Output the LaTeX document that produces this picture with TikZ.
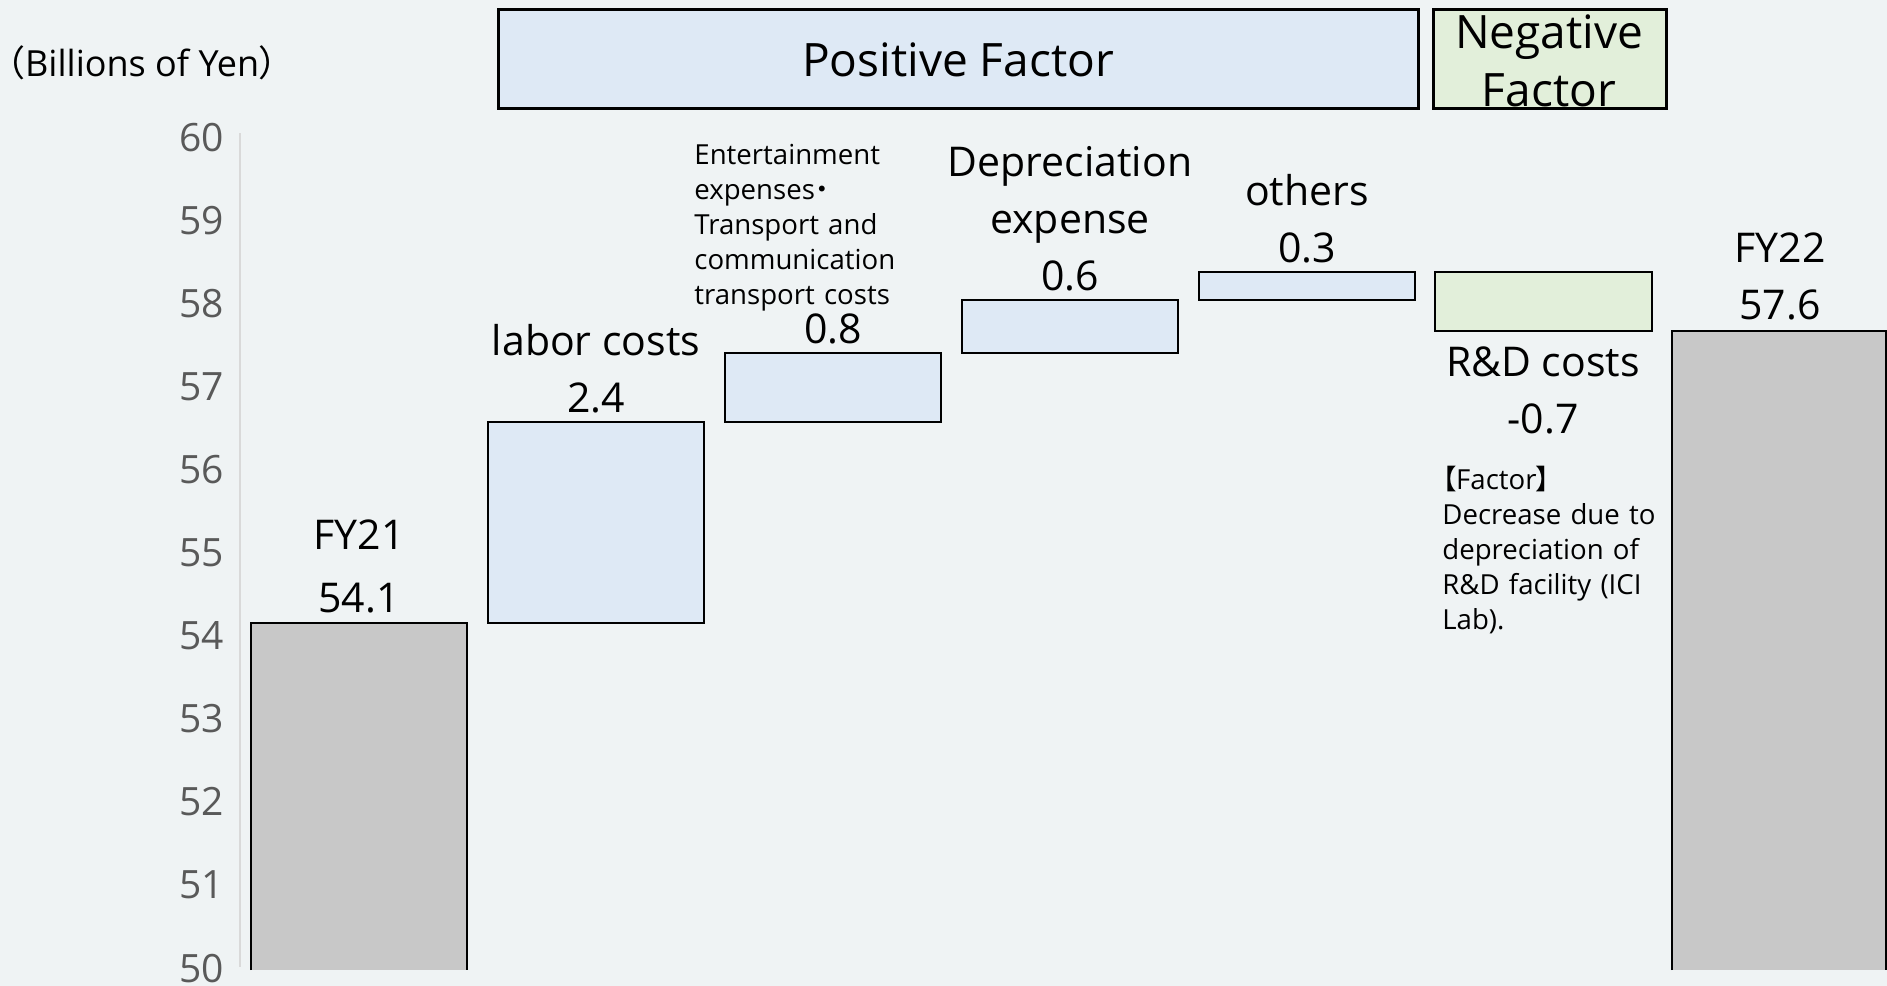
\documentclass[tikz,border=0pt]{standalone}
\usepackage{fontspec}
\setmainfont{Open Sans}
\newfontfamily\cjk[RawFeature=+palt]{Noto Sans CJK JP}
\definecolor{bgc}{HTML}{EFF3F4}
\definecolor{posc}{HTML}{DEE9F5}
\definecolor{negc}{HTML}{E2EFDA}
\definecolor{barc}{HTML}{C8C8C8}
\definecolor{tickc}{HTML}{595959}
\definecolor{axisc}{HTML}{D9D9D9}
\tikzset{
  big/.style={inner sep=0pt, anchor=base, font=\fontsize{20.5}{27}\selectfont},
  hdrtext/.style={inner sep=0pt, anchor=base, font=\fontsize{23}{29}\selectfont},
  small/.style={inner sep=0pt, anchor=base west, align=left, text width=115pt, font=\fontsize{13.8}{17.6}\selectfont},
  ticklbl/.style={inner sep=0pt, anchor=base east, text=tickc, font=\fontsize{19.5}{23}\selectfont},
  posbar/.style={fill=posc, draw=black, line width=1pt},
  negbar/.style={fill=negc, draw=black, line width=1pt},
  hdrbox/.style={draw=black, line width=1.5pt},
}
\begin{document}
\begin{tikzpicture}[x=0.5pt,y=-0.5pt]
\useasboundingbox (0,0) rectangle (1887,986);
\fill[bgc] (0,0) rectangle (1887,986);
% header boxes
\fill[posc] (498,9) rectangle (1418,108);
\draw[hdrbox] (498,9) rectangle (1418,108);
\node[hdrtext] (posh) at (958,76) {Positive Factor};
\fill[negc] (1433,9) rectangle (1666,108);
\node[hdrtext] (negh1) at (1549,48) {Negative};
\node[hdrtext] (negh2) at (1549,106) {Factor};
\draw[hdrbox] (1433,9) rectangle (1666,108);
% unit
\node[inner sep=0pt, anchor=base west, font=\fontsize{18}{22}\selectfont] (unit) at (6,76)
  {{\cjk （}\kern0.02em Billions of Yen\kern0.02em{\cjk ）}};
% axis
\draw[axisc, line width=1pt] (240,133) -- (240,967);
\foreach \v [count=\i from 0] in {60,59,58,57,56,55,54,53,52,51,50}{
  \node[ticklbl] (t\v) at (224,{151+\i*83.1}) {\v};
}
% totals
\fill[barc] (251,623) rectangle (467,970);
\draw[line width=1pt] (251,970) -- (251,623) -- (467,623) -- (467,970);
\fill[barc] (1672,331) rectangle (1888,970);
\draw[line width=1pt] (1672,970) -- (1672,331) -- (1886,331) -- (1886,970);
% deltas
\draw[posbar] (488,422) rectangle (704,623);
\draw[posbar] (725,353) rectangle (941,422);
\draw[posbar] (962,300) rectangle (1178,353);
\draw[posbar] (1199,272) rectangle (1415,300);
\draw[negbar] (1435,272) rectangle (1652,331);
% labels
\node[big] (fy21a) at (359,549) {FY21};
\node[big] (fy21b) at (359,612) {54.1};
\node[big] (laba) at (596,355) {labor costs};
\node[big] (labb) at (596,412) {2.4};
\node[small] (enta) at (694,164) {Entertainment\\expenses{\cjk ・}\\Transport and\\communication\\transport costs};
\node[big] (entb) at (833,343) {0.8};
\node[big] (depa) at (1070,176) {Depreciation};
\node[big] (depb) at (1070,233) {expense};
\node[big] (depc) at (1070,290) {0.6};
\node[big] (otha) at (1307,205) {others};
\node[big] (othb) at (1307,262) {0.3};
\node[big] (rda) at (1543,376) {R\&D costs};
\node[big] (rdb) at (1543,433) {-0.7};
\node[small] (note) at (1442,489) {{\cjk 【}Factor{\cjk 】}\\Decrease due to\\depreciation of\\R\&D facility (ICI\\Lab).};
\node[big] (fy22a) at (1780,262) {FY22};
\node[big] (fy22b) at (1780,319) {57.6};
\end{tikzpicture}
\end{document}
